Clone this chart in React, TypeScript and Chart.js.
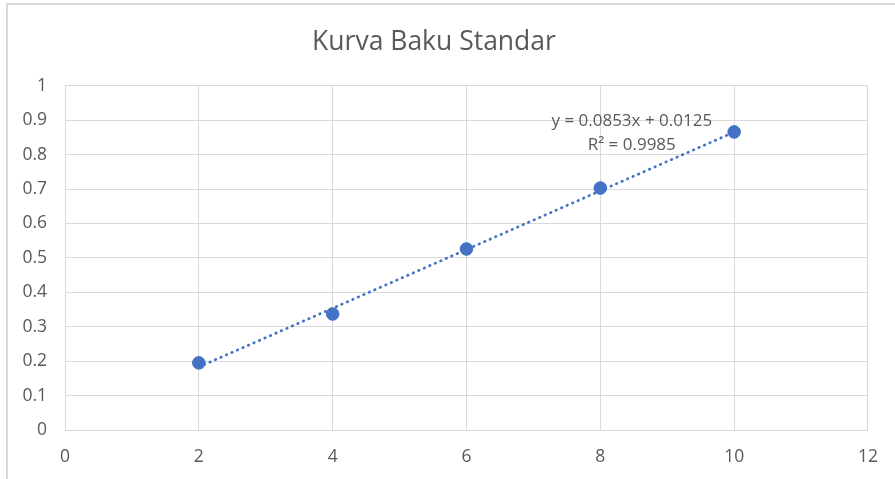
import React, { useEffect, useRef } from "react";
import { Chart, registerables } from "chart.js";

Chart.register(...registerables);

const TITLE = "Kurva Baku Standar";
const xValues = [2, 4, 6, 8, 10];
const yValues = [0.195, 0.337, 0.526, 0.703, 0.866];
const trendSlope = 0.0853;
const trendIntercept = 0.0125;
const trendRange = [2, 10];
const equationLines = ["y = 0.0853x + 0.0125", "R² = 0.9985"];
const equationAnchor = { x: 8.47, y: [0.898, 0.828] };

const FONT = "'Open Sans', sans-serif";
const TEXT = "#595959";
const GRID = "#d9d9d9";
const BLUE = "#4472C4";

export default function App() {
  const ref = useRef<HTMLCanvasElement>(null);

  useEffect(() => {
    document.body.style.margin = "0";
    const canvas = ref.current!;
    const eqPlugin = {
      id: "eq",
      afterDatasetsDraw(chart: any) {
        const { ctx, scales } = chart;
        ctx.save();
        ctx.fillStyle = TEXT;
        ctx.font = `17px ${FONT}`;
        ctx.textAlign = "center";
        ctx.textBaseline = "middle";
        equationLines.forEach((t, i) => {
          ctx.fillText(t, scales.x.getPixelForValue(equationAnchor.x), scales.y.getPixelForValue(equationAnchor.y[i]));
        });
        ctx.restore();
      },
    };
    const chart = new Chart(canvas, {
      type: "scatter",
      data: {
        datasets: [
          {
            label: "data",
            data: xValues.map((x, i) => ({ x, y: yValues[i] })),
            backgroundColor: BLUE,
            borderColor: BLUE,
            pointRadius: 6.3,
            pointHoverRadius: 6.3,
            order: 1,
          },
          {
            label: "trend",
            type: "line",
            data: trendRange.map((x) => ({ x, y: trendSlope * x + trendIntercept })),
            borderColor: BLUE,
            borderWidth: 2.75,
            borderDash: [0.5, 5.5],
            borderCapStyle: "round",
            pointRadius: 0,
            showLine: true,
            fill: false,
            order: 2,
          } as any,
        ],
      },
      options: {
        animation: false,
        responsive: false,
        layout: { padding: { left: 0, right: 27, top: 0, bottom: 0 } },
        plugins: {
          legend: { display: false },
          tooltip: { enabled: false },
          title: {
            display: true,
            text: TITLE,
            color: TEXT,
            font: { family: FONT, size: 26.5, weight: "normal" as any, lineHeight: 1.2 },
            padding: { top: 27, bottom: 27 },
          },
        },
        scales: {
          x: {
            type: "linear",
            min: 0,
            max: 12,
            ticks: { stepSize: 2, color: TEXT, font: { family: FONT, size: 17.5 }, padding: 17 },
            grid: { color: GRID, drawTicks: false },
            border: { color: GRID },
            afterFit(s: any) {
              s.height = 49;
            },
          },
          y: {
            type: "linear",
            min: 0,
            max: 1,
            ticks: {
              stepSize: 0.1,
              color: TEXT,
              font: { family: FONT, size: 17.5 },
              padding: 18,
              callback: (v: any) => String(Number(Number(v).toFixed(1))),
            },
            grid: { color: GRID, drawTicks: false },
            border: { color: GRID },
            afterFit(s: any) {
              s.width = 65;
            },
          },
        },
      },
      plugins: [eqPlugin],
    });
    return () => chart.destroy();
  }, []);

  return (
    <div style={{ position: "relative", width: 895, height: 479, background: "#fff", overflow: "hidden" }}>
      <div
        style={{
          position: "absolute",
          left: 6,
          top: 3,
          width: 895,
          height: 479,
          borderLeft: "2px solid #d9d9d9",
          borderTop: "2px solid #d9d9d9",
        }}
      />
      <canvas ref={ref} width={895} height={479} style={{ position: "absolute", left: 0, top: 0 }} />
    </div>
  );
}
